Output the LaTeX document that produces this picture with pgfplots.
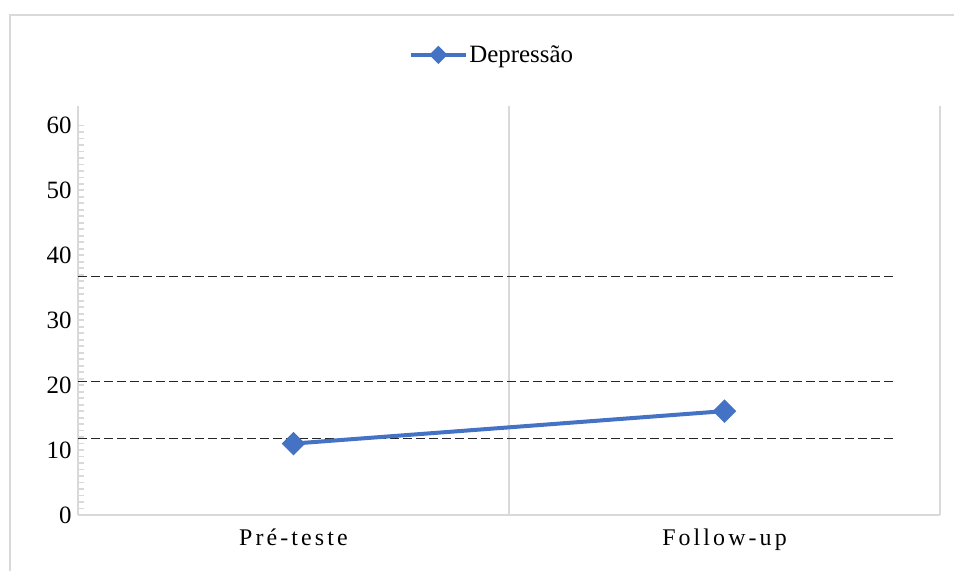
\documentclass[border=0pt]{standalone}
\usepackage{fontspec}
\setmainfont{Liberation Serif}
\newfontfamily\spaced{Liberation Serif}[LetterSpace=13]
\usepackage{pgfplots}
\pgfplotsset{compat=1.18}
\definecolor{ser}{HTML}{4472C4}
\definecolor{gridc}{HTML}{D9D9D9}
\begin{document}
\begin{tikzpicture}[x=1bp,y=1bp]
\useasboundingbox (0,0) rectangle (954,571);
\draw[gridc, line width=1.5bp] (10,-20) -- (10,556) -- (980,556);
\begin{axis}[
  at={(78bp,56bp)}, anchor=south west,
  scale only axis, width=862bp, height=409bp,
  xmin=-0.5, xmax=1.5, ymin=0, ymax=63,
  axis x line*=bottom, axis y line*=left,
  axis line style={gridc, line width=1.8bp, -},
  xtick={0,1}, xticklabels={Pré-teste, Follow-up},
  x tick label style={font=\fontsize{24}{28}\selectfont\spaced, yshift=-10bp},
  x tick style={draw=none},
  extra x ticks={0.5,1.5}, extra x tick labels={},
  extra x tick style={grid=major},
  major grid style={gridc, line width=1.8bp},
  ytick={0,10,...,60}, minor y tick num=9,
  y tick style={gridc, line width=1.8bp},
  tick align=inside, major tick length=6bp, minor tick length=6bp,
  y tick label style={font=\fontsize{25}{28}\selectfont, xshift=-3bp},
  /pgf/number format/assume math mode=true,
  legend style={at={(0.48,1.125)}, anchor=center, draw=none, fill=none,
    font=\fontsize{25}{28}\selectfont, inner sep=0pt,
    nodes={inner sep=1.5bp}},
  legend image code/.code={\draw[mark repeat=2,mark phase=2,#1,mark options={scale=0.7,rotate=45}] plot coordinates {(0bp,0bp) (27.5bp,0bp) (55bp,0bp)};},
  clip=false,
]
\addplot[black!85, line width=1bp, dash pattern=on 9bp off 4bp, forget plot] coordinates {(-0.5,36.7) (1.39,36.7)};
\addplot[black!85, line width=1bp, dash pattern=on 9bp off 4bp, forget plot] coordinates {(-0.5,20.5) (1.39,20.5)};
\addplot[black!85, line width=1bp, dash pattern=on 9bp off 4bp, forget plot] coordinates {(-0.5,11.8) (1.39,11.8)};
\addplot[ser, line width=4bp, mark=square*, mark size=6.3bp, mark options={solid, rotate=45}] coordinates {(0,11.0) (1,16.0)};
\addlegendentry{Depressão}
\end{axis}
\end{tikzpicture}
\end{document}
